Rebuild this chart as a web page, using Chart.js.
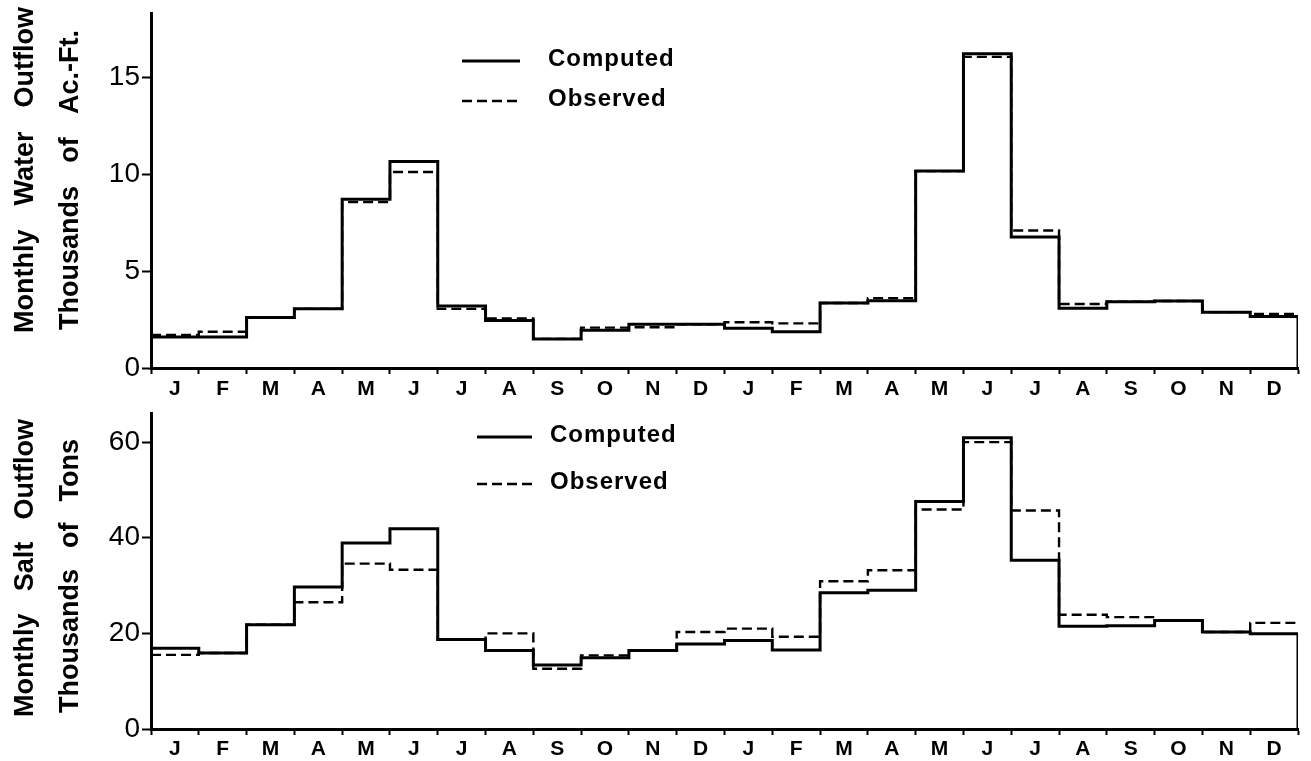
<!DOCTYPE html>
<html>
<head>
<meta charset="utf-8">
<script src="https://cdn.jsdelivr.net/npm/chart.js@4.4.0/dist/chart.umd.min.js"></script>
<style>
  html, body { margin: 0; padding: 0; background: #fff; }
  #wrap { position: relative; width: 1311px; height: 761px; }
  canvas { position: absolute; left: 0; }
  #water { top: 0; }
  #salt { top: 395px; }
</style>
</head>
<body>
<div id="wrap">
  <canvas id="water" width="1311" height="395"></canvas>
  <canvas id="salt" width="1311" height="366"></canvas>
</div>
<script>
// Two consecutive years of monthly outflow, January through December
const months = ['J','F','M','A','M','J','J','A','S','O','N','D',
                'J','F','M','A','M','J','J','A','S','O','N','D'];

// Water outflow, thousands of acre-feet
const waterComputed = [1.6, 1.6, 2.6, 3.05, 8.7, 10.65, 3.2, 2.45, 1.5, 1.95, 2.25, 2.25,
                       2.05, 1.87, 3.35, 3.47, 10.15, 16.2, 6.75, 3.08, 3.42, 3.45, 2.88, 2.65];
const waterObserved = [1.7, 1.87, 2.6, 3.05, 8.55, 10.1, 3.05, 2.56, 1.5, 2.08, 2.1, 2.25,
                       2.36, 2.3, 3.35, 3.6, 10.15, 16.04, 7.09, 3.3, 3.42, 3.45, 2.88, 2.79];

// Salt outflow, thousands of tons
const saltComputed = [16.9, 15.9, 21.8, 29.7, 38.9, 41.9, 18.7, 16.4, 13.4, 14.9, 16.4, 17.8,
                      18.5, 16.5, 28.5, 29.0, 47.6, 60.9, 35.3, 21.5, 21.6, 22.7, 20.3, 19.9];
const saltObserved = [15.5, 15.9, 21.8, 26.5, 34.6, 33.3, 18.7, 20.0, 12.6, 15.4, 16.4, 20.3,
                      21.0, 19.3, 30.9, 33.2, 45.9, 60.0, 45.7, 23.9, 23.4, 22.7, 20.3, 22.2];

const waterTicks = [0, 5, 10, 15];
const saltTicks = [0, 20, 40, 60];

const FONT = '"Liberation Sans", Arial, Helvetica, sans-serif';

// Each month becomes one flat step starting at its index; the last step is closed at x = 24.
function stepPoints(values, dropToZero) {
  const pts = values.map((v, i) => ({ x: i, y: v }));
  pts.push({ x: values.length, y: values[values.length - 1] });
  if (dropToZero) pts.push({ x: values.length, y: 0 });
  return pts;
}

// Rotated, word-justified axis captions on the left side
const sideTitle = {
  id: 'sideTitle',
  afterDraw(chart, args, opts) {
    const ctx = chart.ctx;
    ctx.save();
    ctx.font = opts.font;
    ctx.fillStyle = '#000';
    ctx.letterSpacing = opts.spacing;
    ctx.textBaseline = 'alphabetic';
    ctx.textAlign = 'left';
    opts.lines.forEach(line => {
      ctx.save();
      ctx.translate(line.x, line.bottom);
      ctx.rotate(-Math.PI / 2);
      const words = line.text.split(' ');
      const widths = words.map(w => ctx.measureText(w).width);
      const total = widths.reduce((a, b) => a + b, 0);
      const gap = words.length > 1 ? (line.length - total) / (words.length - 1) : 0;
      let pos = 0;
      words.forEach((w, k) => { ctx.fillText(w, pos, 0); pos += widths[k] + gap; });
      ctx.restore();
    });
    ctx.restore();
  }
};

// Line-style key drawn inside the plot
const styleKey = {
  id: 'styleKey',
  afterDraw(chart, args, opts) {
    const ctx = chart.ctx;
    ctx.save();
    ctx.font = opts.font;
    ctx.letterSpacing = opts.spacing;
    ctx.fillStyle = '#000';
    ctx.strokeStyle = '#000';
    ctx.textBaseline = 'middle';
    chart.data.datasets.forEach((ds, i) => {
      const y = opts.y + i * opts.gap;
      ctx.lineWidth = ds.borderWidth;
      ctx.setLineDash(ds.borderDash || []);
      ctx.beginPath();
      ctx.moveTo(opts.x, y);
      ctx.lineTo(opts.x + opts.len, y);
      ctx.stroke();
      ctx.setLineDash([]);
      ctx.fillText(ds.label, opts.x + opts.len + opts.textGap, y - 2);
    });
    ctx.restore();
  }
};

function makeChart(id, computed, observed, yMax, yTicks, cfg) {
  const monthTicks = [];
  for (let i = 0; i <= months.length; i++) {
    monthTicks.push(i);
    if (i < months.length) monthTicks.push(i + 0.5);
  }
  return new Chart(document.getElementById(id), {
    type: 'line',
    data: {
      datasets: [
        {
          label: 'Computed',
          data: stepPoints(computed, true),
          stepped: 'before',
          borderColor: '#000',
          borderWidth: 3,
          pointRadius: 0,
          fill: false
        },
        {
          label: 'Observed',
          data: stepPoints(observed, false),
          stepped: 'before',
          borderColor: '#000',
          borderWidth: 2.4,
          borderDash: [10, 5],
          pointRadius: 0,
          fill: false
        }
      ]
    },
    options: {
      responsive: false,
      animation: false,
      parsing: false,
      layout: { padding: { top: cfg.top, right: 13, left: 0, bottom: 0 } },
      plugins: {
        legend: { display: false },
        tooltip: { enabled: false },
        sideTitle: cfg.title,
        styleKey: cfg.key
      },
      scales: {
        x: {
          type: 'linear',
          min: 0,
          max: months.length,
          afterBuildTicks: s => { s.ticks = monthTicks.map(v => ({ value: v })); },
          afterFit: s => { s.height = cfg.xHeight; s.paddingLeft = 0; s.paddingRight = 0; },
          ticks: {
            autoSkip: false,
            maxRotation: 0,
            minRotation: 0,
            padding: cfg.xPad,
            color: '#000',
            font: { family: FONT, size: 21, weight: 'bold' },
            callback: v => (v % 1 === 0.5 ? months[Math.floor(v)] : '')
          },
          grid: {
            drawOnChartArea: false,
            drawTicks: true,
            tickLength: 6,
            tickWidth: 2,
            tickColor: c => (c.tick && c.tick.value % 1 === 0 ? '#000' : 'rgba(0,0,0,0)')
          },
          border: { color: '#000', width: 3 }
        },
        y: {
          type: 'linear',
          min: 0,
          max: yMax,
          afterBuildTicks: s => { s.ticks = yTicks.map(v => ({ value: v })); },
          afterFit: s => { s.width = 151; s.paddingTop = 0; s.paddingBottom = 0; },
          ticks: {
            padding: 2,
            color: '#000',
            font: { family: FONT, size: 28 }
          },
          grid: {
            drawOnChartArea: false,
            drawTicks: true,
            tickLength: 9,
            tickWidth: 2,
            tickColor: '#000'
          },
          border: { color: '#000', width: 3 }
        }
      }
    },
    plugins: [sideTitle, styleKey]
  });
}

makeChart('water', waterComputed, waterObserved, 18.3, waterTicks, {
  top: 13,
  xHeight: 27,
  xPad: 3,
  title: {
    font: 'bold 27px ' + FONT,
    spacing: '0px',
    lines: [
      { text: 'Monthly Water Outflow', x: 33, bottom: 333, length: 326 },
      { text: 'Thousands of Ac.-Ft.', x: 78, bottom: 330, length: 300 }
    ]
  },
  key: { font: 'bold 24px ' + FONT, spacing: '1px', x: 462, len: 58, textGap: 86 - 58, y: 61, gap: 40 }
});

makeChart('salt', saltComputed, saltObserved, 66.1, saltTicks, {
  top: 18,
  xHeight: 32,
  xPad: 2,
  title: {
    font: 'bold 27px ' + FONT,
    spacing: '0px',
    lines: [
      { text: 'Monthly Salt Outflow', x: 33, bottom: 322, length: 298 },
      { text: 'Thousands of Tons', x: 78, bottom: 318, length: 274 }
    ]
  },
  key: { font: 'bold 24px ' + FONT, spacing: '1px', x: 477, len: 55, textGap: 73 - 55, y: 42, gap: 47 }
});
</script>
</body>
</html>
